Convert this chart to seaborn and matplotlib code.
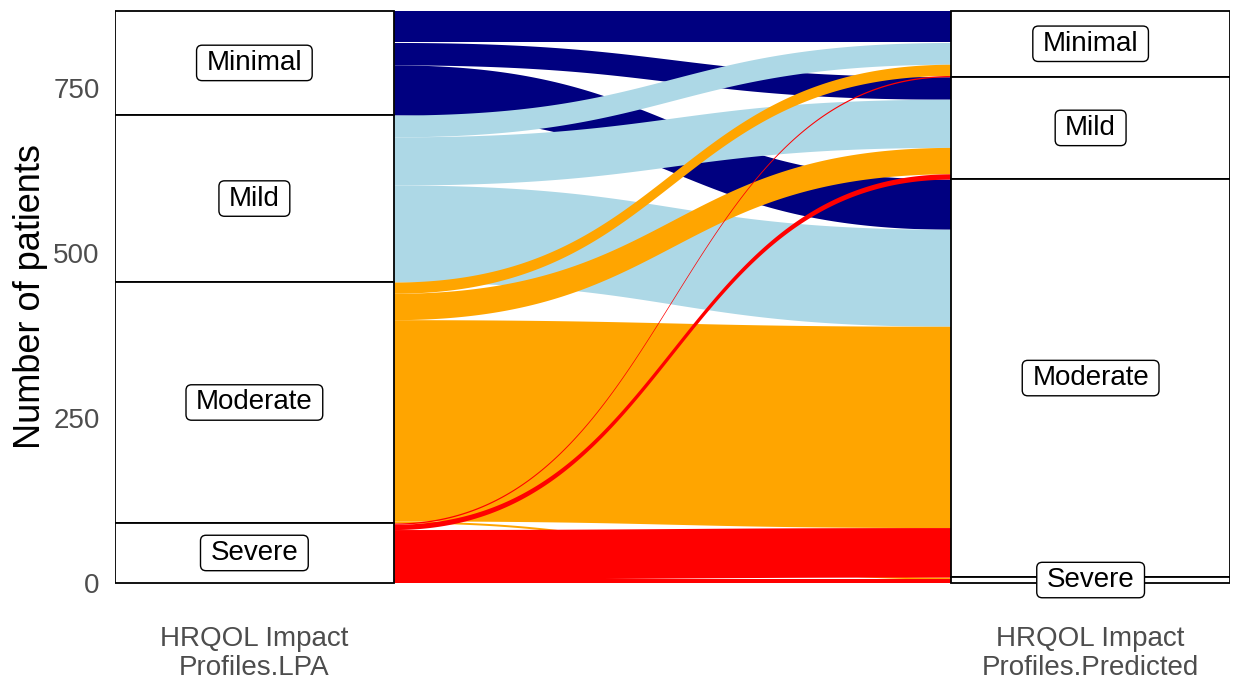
import numpy as np
import matplotlib
matplotlib.use("Agg")
import matplotlib.pyplot as plt
import seaborn as sns
from matplotlib.patches import BoxStyle

# ---------------- data ----------------
levels = ["Minimal", "Mild", "Moderate", "Severe"]
# flows from LPA profile (rows) to Predicted profile (columns, same order as levels)
flow_from_minimal = [48, 34, 76, 0]
flow_from_mild = [33, 73, 147, 0]
flow_from_moderate = [17, 40, 305, 3]
flow_from_severe = [2, 8, 75, 6]
level_colors = ["#000080", "#ADD8E6", "#FFA500", "#FF0000"]
axis_names = ["HRQOL Impact\nProfiles.LPA", "HRQOL Impact\nProfiles.Predicted"]
y_ticks = [0, 250, 500, 750]
y_title = "Number of patients"

# ---------------- style ----------------
sns.set_theme(style="white")
plt.rcParams["font.family"] = ["Liberation Sans", "DejaVu Sans"]

W, H = 1235, 685
fig = plt.figure(figsize=(W / 100, H / 100), dpi=100)

flows = np.array([flow_from_minimal, flow_from_mild, flow_from_moderate, flow_from_severe])
n = len(levels)
left_tot = flows.sum(axis=1)
right_tot = flows.sum(axis=0)
total = flows.sum()

ylo, yhi = -1.5, total + 2
px_per_unit = 0.66
ax_bottom_px = 583 + (-ylo) * px_per_unit
ax_h_px = (yhi - ylo) * px_per_unit
ax = fig.add_axes([115 / W, (H - ax_bottom_px) / H, (1230 - 115) / W, ax_h_px / H])

sw = 1 / 3  # stratum width
xs = [1, 2]
ax.set_xlim(1 - sw / 2, 2 + sw / 2)
ax.set_ylim(ylo, yhi)


def bases(tot):
    b, c = {}, 0
    for i in reversed(range(n)):
        b[i] = c
        c += tot[i]
    return b


lb = bases(left_tot)
rb = bases(right_tot)

left_pos, right_pos = {}, {}
for i in range(n):
    c = lb[i]
    for j in reversed(range(n)):
        left_pos[i, j] = c
        c += flows[i, j]
for j in range(n):
    c = rb[j]
    for i in reversed(range(n)):
        right_pos[i, j] = c
        c += flows[i, j]

# flows (cubic bezier ribbons)
x0, x1 = 1 + sw / 2, 2 - sw / 2
u = np.linspace(0, 1, 400)
bx = x0 + (x1 - x0) * (1.5 * u * (1 - u) + u ** 3)
by = 3 * u ** 2 - 2 * u ** 3
for i in range(n):
    for j in range(n):
        v = flows[i, j]
        if v <= 0:
            continue
        yl0, yr0 = left_pos[i, j], right_pos[i, j]
        bot = yl0 + (yr0 - yl0) * by
        top = bot + v
        ax.fill_between(bx, bot, top, color=level_colors[i], lw=0, zorder=2)

# strata
for xi, tot, base in [(xs[0], left_tot, lb), (xs[1], right_tot, rb)]:
    for i in range(n):
        ax.bar(xi, tot[i], bottom=base[i], width=sw, color="white",
               edgecolor="black", linewidth=1.3, zorder=3)


def label_box(x0_, y0_, width, height, mutation_size):
    px = 0.36 * mutation_size
    py = 0.17 * mutation_size
    return BoxStyle.Round(pad=0, rounding_size=0.2)(
        x0_ - px, y0_ - py, width + 2 * px, height + 2 * py, mutation_size)


for xi, tot, base in [(xs[0], left_tot, lb), (xs[1], right_tot, rb)]:
    for i in range(n):
        ax.text(xi, base[i] + tot[i] / 2, levels[i], ha="center", va="center",
                fontsize=20, color="black", zorder=5, clip_on=False,
                bbox=dict(boxstyle=label_box, fc="white", ec="black", lw=1.0))

ax.set_xticks(xs)
ax.set_xticklabels(axis_names, fontsize=20, color="#4D4D4D", linespacing=1.15)
ax.set_yticks(y_ticks)
ax.set_yticklabels([str(t) for t in y_ticks], fontsize=20, color="#4D4D4D")
ax.tick_params(axis="x", length=0, pad=30)
ax.tick_params(axis="y", length=0, pad=11)
ax.set_ylabel(y_title, fontsize=26, color="black", labelpad=4)
for s in ax.spines.values():
    s.set_visible(False)
ax.grid(False)

fig.savefig("out.png", dpi=100, facecolor="white")
